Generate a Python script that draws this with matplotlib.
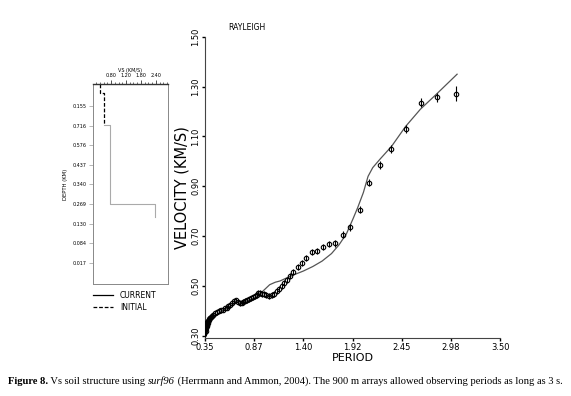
import numpy as np
import matplotlib
matplotlib.use("Agg")
import matplotlib.pyplot as plt
from matplotlib.lines import Line2D
from matplotlib.ticker import MultipleLocator

# ----------------------------- data -----------------------------

# observed dispersion (period s, phase velocity km/s, error)
obs_period = [0.355, 0.36, 0.362, 0.365, 0.368, 0.37, 0.373, 0.375, 0.378, 0.38,
              0.385, 0.39, 0.40, 0.41, 0.42, 0.44, 0.46, 0.48, 0.50, 0.52,
              0.54, 0.56, 0.58, 0.60, 0.62, 0.64, 0.66, 0.68, 0.70, 0.72,
              0.74, 0.76, 0.78, 0.80, 0.82, 0.84, 0.86, 0.88, 0.90, 0.92,
              0.94, 0.96, 0.98, 1.00, 1.03, 1.06, 1.09, 1.12, 1.14, 1.17,
              1.19, 1.22, 1.26, 1.29, 1.34, 1.38, 1.43, 1.49, 1.54, 1.61,
              1.67, 1.74, 1.82, 1.90, 2.00, 2.10, 2.22, 2.34, 2.49, 2.65,
              2.83, 3.03]
obs_vel = [0.315, 0.32, 0.335, 0.33, 0.345, 0.35, 0.34, 0.355, 0.36, 0.35,
           0.36, 0.365, 0.37, 0.375, 0.38, 0.385, 0.39, 0.395, 0.40, 0.402,
           0.405, 0.41, 0.412, 0.418, 0.422, 0.43, 0.438, 0.442, 0.436, 0.43,
           0.432, 0.436, 0.44, 0.442, 0.446, 0.45, 0.455, 0.46, 0.465, 0.47,
           0.472, 0.468, 0.466, 0.462, 0.46, 0.463, 0.468, 0.478, 0.487, 0.50,
           0.512, 0.525, 0.54, 0.558, 0.578, 0.592, 0.612, 0.636, 0.642, 0.656,
           0.67, 0.672, 0.705, 0.735, 0.805, 0.915, 0.985, 1.05, 1.13, 1.235,
           1.258, 1.272]
obs_err = [0.02, 0.02, 0.02, 0.02, 0.02, 0.02, 0.02, 0.02, 0.02, 0.02,
           0.015, 0.015, 0.015, 0.012, 0.012, 0.01, 0.01, 0.01, 0.01, 0.01,
           0.01, 0.01, 0.01, 0.01, 0.01, 0.01, 0.01, 0.01, 0.01, 0.01,
           0.01, 0.01, 0.01, 0.01, 0.01, 0.01, 0.01, 0.012, 0.012, 0.012,
           0.012, 0.012, 0.012, 0.012, 0.012, 0.012, 0.012, 0.012, 0.012, 0.012,
           0.012, 0.012, 0.012, 0.012, 0.012, 0.012, 0.012, 0.012, 0.012, 0.012,
           0.012, 0.014, 0.014, 0.014, 0.014, 0.014, 0.016, 0.016, 0.016, 0.018,
           0.018, 0.03]

# modelled dispersion curve
mod_period = [0.35, 0.37, 0.40, 0.45, 0.50, 0.55, 0.60, 0.65, 0.68, 0.72,
              0.80, 0.90, 0.97, 1.04, 1.10, 1.15, 1.22, 1.30, 1.40, 1.50,
              1.60, 1.70, 1.78, 1.86, 1.93, 1.98, 2.04, 2.09, 2.14, 2.22,
              2.34, 2.49, 2.65, 2.82, 3.04]
mod_vel = [0.305, 0.33, 0.355, 0.375, 0.39, 0.405, 0.415, 0.425, 0.44, 0.43,
           0.44, 0.455, 0.48, 0.505, 0.515, 0.52, 0.532, 0.545, 0.56, 0.578,
           0.60, 0.63, 0.665, 0.71, 0.77, 0.815, 0.875, 0.94, 0.975, 1.01,
           1.06, 1.14, 1.21, 1.27, 1.35]

period_ticks = [0.35, 0.875, 1.40, 1.925, 2.45, 2.975, 3.50]
period_labels = ["0.35", "0.87", "1.40", "1.92", "2.45", "2.98", "3.50"]
vel_ticks = [0.30, 0.50, 0.70, 0.90, 1.10, 1.30, 1.50]

# inset: Vs profile (x = Vs scale, y = layer position top->bottom)
init_vs = [0.507, 0.507, 0.613, 0.613]
init_y = [0.0, 0.47, 0.47, 2.05]
cur_vs = [0.613, 0.773, 0.773, 1.97, 1.97]
cur_y = [2.05, 2.05, 6.0, 6.0, 6.65]
vs_ticks = [0.80, 1.20, 1.60, 2.00]
vs_labels = ["0.80", "1.20", "1.80", "2.40"]
depth_labels = ["0.155", "0.716", "0.576", "0.437", "0.340",
                "0.269", "0.130", "0.084", "0.017"]

# ----------------------------- figure -----------------------------

fig = plt.figure(figsize=(5.71, 3.96), dpi=100)
fig.patch.set_facecolor("white")

# main dispersion plot
ax = fig.add_axes([0.359, 0.147, 0.517, 0.760])
ax.plot(mod_period, mod_vel, color="#555555", lw=0.9, zorder=2)
ax.errorbar(obs_period, obs_vel, yerr=obs_err, fmt="o", ms=3.2, mfc="none",
            mec="black", mew=0.8, ecolor="black", elinewidth=0.8, capsize=0,
            zorder=3)
ax.set_xlim(0.35, 3.50)
ax.set_ylim(0.292, 1.50)
for s in ("top", "right"):
    ax.spines[s].set_visible(False)
for s in ("left", "bottom"):
    ax.spines[s].set_color("#444444")
    ax.spines[s].set_linewidth(0.8)
ax.set_xticks(period_ticks)
ax.set_xticklabels(period_labels)
ax.set_yticks(vel_ticks)
ax.set_yticklabels([f"{v:.2f}" for v in vel_ticks], rotation=90, va="center")
ax.tick_params(length=2, width=1, labelsize=6, pad=1.5)
ax.set_xlabel("PERIOD", fontsize=8, labelpad=1)
ax.set_ylabel("VELOCITY (KM/S)", fontsize=10.5, labelpad=1)
ax.text(0.078, 1.015, "RAYLEIGH", transform=ax.transAxes, fontsize=5.5,
        ha="left", va="bottom")

# inset: Vs structure
axi = fig.add_axes([0.163, 0.283, 0.131, 0.505])
axi.plot(cur_vs, cur_y, color="#aaaaaa", lw=0.8)
axi.plot(init_vs, init_y, color="black", lw=0.9, ls=(0, (3, 1.5)))
axi.set_xlim(0.32, 2.32)
axi.set_ylim(10, 0)
axi.xaxis.tick_top()
axi.xaxis.set_label_position("top")
axi.set_xticks(vs_ticks)
axi.set_xticklabels(vs_labels)
axi.xaxis.set_minor_locator(MultipleLocator(0.1))
axi.set_yticks(np.linspace(1.1, 8.95, 9))
axi.set_yticklabels(depth_labels)
axi.tick_params(axis="x", which="major", length=3, width=0.6, labelsize=3.5,
                pad=1, color="#333333")
axi.tick_params(axis="x", which="minor", length=1.5, width=0.5, color="#333333")
axi.tick_params(axis="y", length=3, width=0.5, labelsize=3.5, pad=2,
                color="#999999")
axi.set_xlabel("VS (KM/S)", fontsize=3.5, labelpad=1)
axi.set_ylabel("DEPTH (KM)", fontsize=3.8, labelpad=3)
axi.spines["top"].set_color("#333333")
axi.spines["top"].set_linewidth(1.0)
for s in ("left", "right", "bottom"):
    axi.spines[s].set_color("#888888")
    axi.spines[s].set_linewidth(0.7)

handles = [Line2D([], [], color="black", lw=0.9),
           Line2D([], [], color="black", lw=0.9, ls=(0, (3, 1.5)))]
axi.legend(handles, ["CURRENT", "INITIAL"], loc="upper left",
           bbox_to_anchor=(-0.04, -0.02), frameon=False, fontsize=5.5,
           handlelength=2.6, handletextpad=0.9, labelspacing=0.35,
           borderaxespad=0)

# caption, written piece by piece
caption = [("Figure 8.", "bold", "normal"),
           (" Vs soil structure using ", "normal", "normal"),
           ("surf96", "normal", "italic"),
           (" (Herrmann and Ammon, 2004). The 900 m arrays allowed observing "
            "periods as long as 3 s.", "normal", "normal")]
renderer = fig.canvas.get_renderer()
x = 8 / 571
for txt, weight, style in caption:
    t = fig.text(x, 1 - 381 / 396, txt, fontsize=7.6, family="Liberation Serif",
                 weight=weight, style=style, ha="left", va="center")
    bb = t.get_window_extent(renderer)
    x += bb.width / fig.bbox.width

fig.savefig("out.png", dpi=100)
